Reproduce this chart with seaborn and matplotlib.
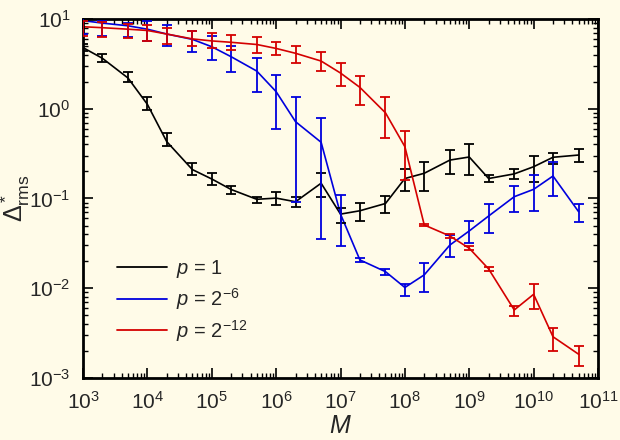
import matplotlib
matplotlib.use("Agg")
import matplotlib.pyplot as plt
import seaborn as sns
import pandas as pd
import numpy as np
from matplotlib.ticker import LogLocator, NullFormatter

M = [1e3, 2e3, 5e3, 1e4, 2e4, 5e4, 1e5, 2e5, 5e5, 1e6, 2e6, 5e6,
     1e7, 2e7, 5e7, 1e8, 2e8, 5e8, 1e9, 2e9, 5e9, 1e10, 2e10, 5e10]

black_y = [4.8, 3.65, 2.2, 1.12, 0.43, 0.21, 0.165, 0.126, 0.098, 0.101, 0.092, 0.148,
           0.067, 0.073, 0.088, 0.167, 0.191, 0.268, 0.29, 0.167, 0.188, 0.226, 0.288, 0.305]
black_lo = [4.4, 3.34, 2.0, 0.97, 0.385, 0.183, 0.141, 0.111, 0.0897, 0.0848, 0.081, 0.105,
            0.0537, 0.0561, 0.0695, 0.122, 0.122, 0.1875, 0.183, 0.151, 0.167, 0.154, 0.242, 0.252]
black_hi = [5.2, 4.05, 2.59, 1.36, 0.54, 0.247, 0.194, 0.138, 0.105, 0.119, 0.105, 0.194,
            0.0778, 0.0883, 0.1066, 0.211, 0.257, 0.347, 0.402, 0.183, 0.213, 0.30, 0.325, 0.357]

blue_y = [9.6, 9.0, 8.4, 7.7, 6.8, 5.93, 4.91, 3.8, 2.63, 1.55, 0.718, 0.423,
          0.0671, 0.0207, 0.0153, 0.0102, 0.0141, 0.0303, 0.0435, 0.0638, 0.1047, 0.1265, 0.178, 0.0713]
blue_lo = [6.8, 6.5, 6.3, 5.73, 5.05, 4.25, 3.49, 2.59, 1.52, 0.594, 0.092, 0.0354,
           0.0298, 0.0195, 0.0139, 0.0083, 0.0091, 0.0221, 0.0316, 0.041, 0.0713, 0.0732, 0.107, 0.0551]
blue_hi = [13.0, 9.5, 9.0, 9.5, 8.6, 7.4, 6.46, 5.0, 3.65, 2.38, 1.36, 0.794,
           0.109, 0.0217, 0.0165, 0.0112, 0.0193, 0.0392, 0.0562, 0.0869, 0.1377, 0.183, 0.253, 0.0869]

red_y = [8.2, 8.0, 7.7, 7.45, 6.8, 6.0, 5.7, 5.5, 5.2, 4.7, 4.15, 3.4,
         2.5, 1.73, 0.90, 0.378, 0.0507, 0.0382, 0.0279, 0.0164, 0.00573, 0.00856, 0.00288, 0.00184]
red_lo = [6.4, 6.25, 6.1, 5.7, 5.2, 5.0, 4.8, 4.5, 4.15, 3.97, 3.26, 2.63,
          1.79, 1.09, 0.476, 0.161, 0.049, 0.0365, 0.0265, 0.0155, 0.00494, 0.00582, 0.00202, 0.00136]
red_hi = [9.6, 9.26, 8.8, 8.6, 7.9, 7.35, 6.9, 6.6, 6.35, 5.6, 5.0, 4.25,
          3.2, 2.32, 1.36, 0.565, 0.0525, 0.040, 0.0295, 0.0173, 0.0064, 0.01115, 0.00363, 0.00228]

labels = [r"$p$ = 1", r"$p$ = 2$^{-6}$", r"$p$ = 2$^{-12}$"]
colors = ["#000000", "#0000dd", "#d40000"]

bg = "#fffbe8"

sns.set_theme(style="ticks")
plt.rcParams["font.family"] = ["Liberation Sans", "DejaVu Sans"]
plt.rcParams["mathtext.fontset"] = "custom"
plt.rcParams["mathtext.rm"] = "Liberation Sans"
plt.rcParams["mathtext.it"] = "Liberation Sans:italic"
plt.rcParams["mathtext.bf"] = "Liberation Sans:bold"
plt.rcParams["axes.unicode_minus"] = False

fig = plt.figure(figsize=(6.2, 4.4), dpi=100, facecolor=bg)
ax = fig.add_axes([83 / 620, 1 - 378 / 440, 515 / 620, 359 / 440])
ax.set_facecolor(bg)

series = [(black_y, black_lo, black_hi), (blue_y, blue_lo, blue_hi), (red_y, red_lo, red_hi)]
frames = []
for lab, (y, lo, hi) in zip(labels, series):
    frames.append(pd.DataFrame({"M": M, "D": y, "series": lab}))
df = pd.concat(frames, ignore_index=True)

sns.lineplot(data=df, x="M", y="D", hue="series", palette=colors, hue_order=labels,
             linewidth=1.2, ax=ax, legend=True)

for (y, lo, hi), c in zip(series, colors):
    y = np.array(y); lo = np.array(lo); hi = np.array(hi)
    ax.errorbar(M, y, yerr=[y - lo, hi - y], fmt="none", ecolor=c,
                elinewidth=1.3, capsize=3.8, capthick=1.3, zorder=3)

ax.set_xscale("log")
ax.set_yscale("log")
ax.set_xlim(1e3, 1e11)
ax.set_ylim(1e-3, 1e1)

ax.xaxis.set_major_locator(LogLocator(base=10, numticks=20))
ax.xaxis.set_minor_locator(LogLocator(base=10, subs=np.arange(2, 10), numticks=20))
ax.xaxis.set_minor_formatter(NullFormatter())
ax.yaxis.set_major_locator(LogLocator(base=10, numticks=20))
ax.yaxis.set_minor_locator(LogLocator(base=10, subs=np.arange(2, 10), numticks=20))
ax.yaxis.set_minor_formatter(NullFormatter())

ax.tick_params(which="both", direction="in", top=True, right=True, color="black")
ax.tick_params(which="major", length=7.5, width=1.2, labelsize=15, pad=9)
ax.tick_params(which="minor", length=3.5, width=1.0)
for s in ax.spines.values():
    s.set_linewidth(2.0)
    s.set_color("black")

ax.set_xlabel(r"$M$", fontsize=18, labelpad=1)
ax.set_ylabel(r"$\Delta^*_{\rm rms}$", fontsize=18, labelpad=-2)

leg = ax.legend(loc="lower left", bbox_to_anchor=(0.03, 0.045), frameon=False,
                fontsize=14.5, handlelength=2.5, handletextpad=0.45, labelspacing=0.3)
for line in leg.get_lines():
    line.set_linewidth(1.3)

fig.savefig("out.png", dpi=100, facecolor=bg)
